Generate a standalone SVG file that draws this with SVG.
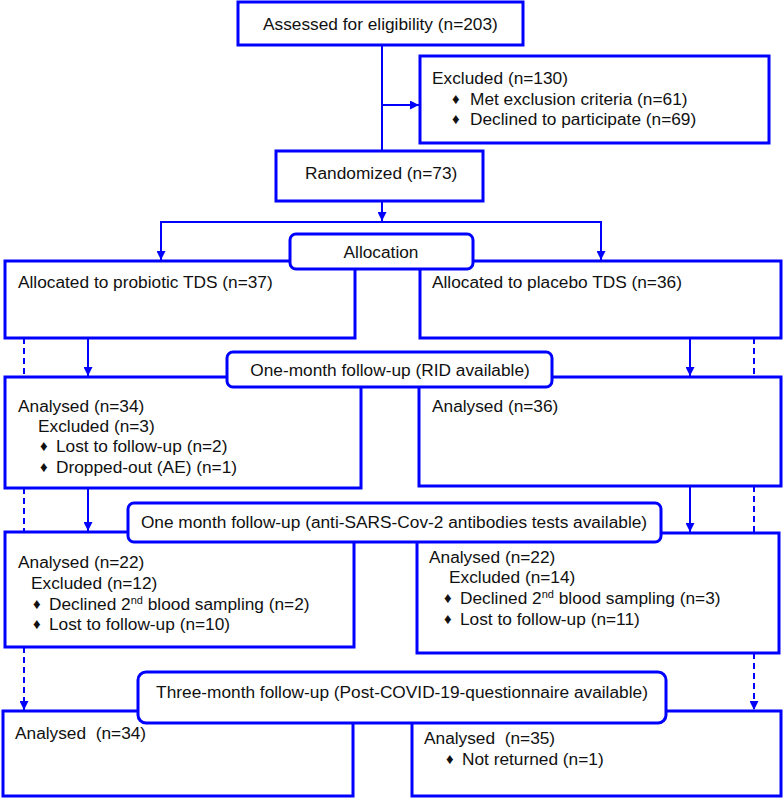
<svg xmlns="http://www.w3.org/2000/svg" width="784" height="799" viewBox="0 0 784 799">
<style>
.box{fill:#fff;stroke:#0000ff;stroke-width:3}
.lbl{fill:#fff;stroke:#0000ff;stroke-width:3}
.ln{fill:none;stroke:#0000ff;stroke-width:2}
.dash{fill:none;stroke:#0000ff;stroke-width:2;stroke-dasharray:6 4}
text{font-family:"Liberation Sans",Arial,sans-serif;font-size:17.3px;fill:#111;white-space:pre}
.b{font-size:15px}
.sup{font-size:11px}
</style>
<defs>
<marker id="ah" viewBox="0 0 10 10" refX="10" refY="5" markerWidth="9" markerHeight="9" markerUnits="userSpaceOnUse" orient="auto">
<path d="M0,0 L10,5 L0,10 z" fill="#0000ff"/>
</marker>
</defs>
<g id="connectors">
<path class="ln" d="M382,45 V151"/>
<path class="ln" d="M382,105 H419" marker-end="url(#ah)"/>
<path class="ln" d="M382,201 V221" marker-end="url(#ah)"/>
<path class="ln" d="M161,260 V222 H601 V260" />
<path class="ln" d="M161,240 V260" marker-end="url(#ah)"/>
<path class="ln" d="M601,240 V260" marker-end="url(#ah)"/>
<path class="ln" d="M88,338 V376" marker-end="url(#ah)"/>
<path class="ln" d="M690,338 V376" marker-end="url(#ah)"/>
<path class="ln" d="M88,488 V531" marker-end="url(#ah)"/>
<path class="ln" d="M690,486 V532" marker-end="url(#ah)"/>
<path class="dash" d="M24,338 V377"/>
<path class="dash" d="M24,488 V532"/>
<path class="dash" d="M24,647 V710" marker-end="url(#ah)"/>
<path class="dash" d="M754,338 V377"/>
<path class="dash" d="M754,486 V533"/>
<path class="dash" d="M754,653 V710" marker-end="url(#ah)"/>
</g>
<g id="assessed">
<rect class="box" x="238" y="2" width="285" height="43"/>
<text x="263" y="30">Assessed for eligibility (n=203)</text>
</g>
<g id="excluded">
<rect class="box" x="420" y="56" width="349" height="87"/>
<text x="432" y="84">Excluded (n=130)</text>
<text class="b" x="452" y="104">♦</text><text x="470" y="105">Met exclusion criteria (n=61)</text>
<text class="b" x="452" y="124">♦</text><text x="470" y="125">Declined to participate (n=69)</text>
</g>
<g id="randomized">
<rect class="box" x="276" y="151" width="207" height="50"/>
<text x="305" y="179">Randomized (n=73)</text>
</g>
<g id="alloc-probiotic">
<rect class="box" x="5" y="261" width="350" height="77"/>
<text x="18" y="288">Allocated to probiotic TDS (n=37)</text>
</g>
<g id="alloc-placebo">
<rect class="box" x="420" y="261" width="361" height="77"/>
<text x="432" y="288">Allocated to placebo TDS (n=36)</text>
</g>
<g id="allocation">
<rect class="lbl" x="290" y="234" width="183" height="35" rx="6"/>
<text x="381" y="258" text-anchor="middle">Allocation</text>
</g>
<g id="analysed-1-left">
<rect class="box" x="5" y="377" width="356" height="111"/>
<text x="18" y="412">Analysed (n=34)</text>
<text x="38" y="432">Excluded (n=3)</text>
<text class="b" x="40" y="451">♦</text><text x="56" y="452">Lost to follow-up (n=2)</text>
<text class="b" x="40" y="472">♦</text><text x="56" y="473">Dropped-out (AE) (n=1)</text>
</g>
<g id="analysed-1-right">
<rect class="box" x="419" y="377" width="362" height="109"/>
<text x="432" y="412">Analysed (n=36)</text>
</g>
<g id="followup-1">
<rect class="lbl" x="227" y="352" width="325" height="35" rx="6"/>
<text x="390" y="376" text-anchor="middle">One-month follow-up (RID available)</text>
</g>
<g id="analysed-2-left">
<rect class="box" x="5" y="532" width="349" height="115"/>
<text x="18" y="568">Analysed (n=22)</text>
<text x="31" y="589">Excluded (n=12)</text>
<text class="b" x="33" y="609">♦</text><text x="49" y="610">Declined 2<tspan class="sup" dy="-6">nd</tspan><tspan dy="6"> blood sampling (n=2)</tspan></text>
<text class="b" x="33" y="629">♦</text><text x="49" y="630">Lost to follow-up (n=10)</text>
</g>
<g id="analysed-2-right">
<rect class="box" x="417" y="533" width="362" height="120"/>
<text x="429" y="563">Analysed (n=22)</text>
<text x="449" y="583">Excluded (n=14)</text>
<text class="b" x="444" y="603">♦</text><text x="460" y="604">Declined 2<tspan class="sup" dy="-6">nd</tspan><tspan dy="6"> blood sampling (n=3)</tspan></text>
<text class="b" x="444" y="624">♦</text><text x="460" y="625">Lost to follow-up (n=11)</text>
</g>
<g id="followup-2">
<rect class="lbl" x="128" y="503" width="533" height="39" rx="6"/>
<text x="394" y="528" text-anchor="middle">One month follow-up (anti-SARS-Cov-2 antibodies tests available)</text>
</g>
<g id="analysed-3-left">
<rect class="box" x="3" y="711" width="350" height="85"/>
<text x="15" y="739">Analysed  (n=34)</text>
</g>
<g id="analysed-3-right">
<rect class="box" x="412" y="711" width="369" height="85"/>
<text x="424" y="744">Analysed  (n=35)</text>
<text class="b" x="446" y="764">♦</text><text x="462" y="765">Not returned (n=1)</text>
</g>
<g id="followup-3">
<rect class="lbl" x="138" y="672" width="528" height="51" rx="8"/>
<text x="402" y="698" text-anchor="middle">Three-month follow-up (Post-COVID-19-questionnaire available)</text>
</g>
</svg>
